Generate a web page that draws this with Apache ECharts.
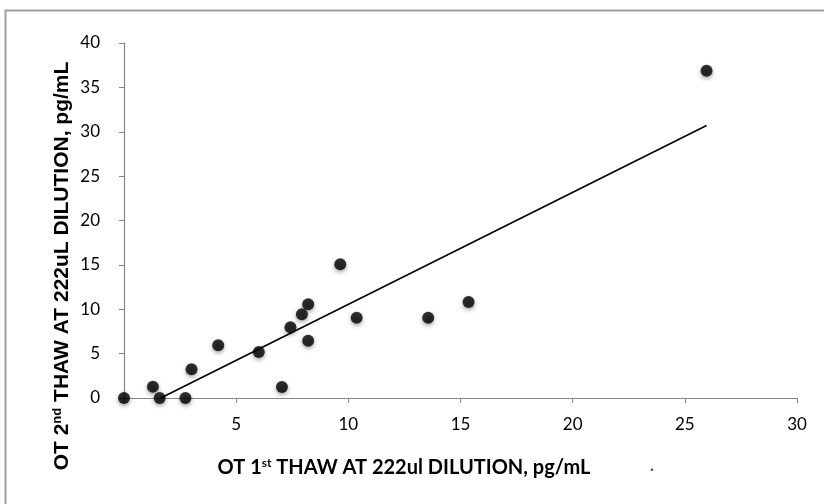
<!DOCTYPE html>
<html>
<head>
<meta charset="utf-8">
<script src="https://cdn.jsdelivr.net/npm/echarts@6/dist/echarts.min.js"></script>
<style>
  html, body { margin: 0; padding: 0; background: #fff; }
  #chart { width: 824px; height: 504px; }
</style>
</head>
<body>
<div id="chart"></div>
<script>
// OT 1st thaw (x) vs OT 2nd thaw (y), pg/mL
var firstThaw  = [0, 1.29, 1.59, 2.74, 3.01, 4.2, 6.01, 7.04, 7.42, 7.93, 8.21, 8.21, 9.64, 10.37, 13.56, 15.36, 25.97];
var secondThaw = [0, 1.27, 0, 0, 3.23, 5.94, 5.18, 1.24, 7.97, 9.43, 6.46, 10.56, 15.06, 9.05, 9.05, 10.82, 36.88];
var xTicks = [5, 10, 15, 20, 25, 30];
var yTicks = [0, 5, 10, 15, 20, 25, 30, 35, 40];

var points = firstThaw.map(function (x, i) { return [x, secondThaw[i]]; });

// least squares trend line, clipped at y = 0 like the original
var n = points.length, mx = 0, my = 0;
points.forEach(function (p) { mx += p[0] / n; my += p[1] / n; });
var sxy = 0, sxx = 0;
points.forEach(function (p) { sxy += (p[0] - mx) * (p[1] - my); sxx += (p[0] - mx) * (p[0] - mx); });
var slope = sxy / sxx, icpt = my - slope * mx;
var xMax = Math.max.apply(null, firstThaw);
var trend = [[-icpt / slope, 0], [xMax, slope * xMax + icpt]];

var chart = echarts.init(document.getElementById('chart'));
chart.setOption({
  animation: false,
  grid: { left: 124, right: 27, top: 43, bottom: 106 },
  xAxis: {
    type: 'value', min: 0, max: 30, interval: 5,
    splitLine: { show: false },
    axisLine: { lineStyle: { color: '#868686', width: 1.2 } },
    axisTick: { show: true, length: 5, lineStyle: { color: '#868686' } },
    axisLabel: {
      margin: 18, color: '#000', fontFamily: 'Lato', fontSize: 17,
      formatter: function (v) { return xTicks.indexOf(v) >= 0 ? String(v) : ''; }
    }
  },
  yAxis: {
    type: 'value', min: 0, max: 40, interval: 5,
    splitLine: { show: false },
    axisLine: { show: true, lineStyle: { color: '#868686', width: 1.2 } },
    axisTick: { show: true, length: 5, lineStyle: { color: '#868686' } },
    axisLabel: {
      margin: 24, color: '#000', fontFamily: 'Lato', fontSize: 17,
      formatter: function (v) { return yTicks.indexOf(v) >= 0 ? String(v) : ''; }
    }
  },
  graphic: [
    {
      type: 'rect', silent: true,
      shape: { x: 5.5, y: 10.5, width: 900, height: 600 },
      style: { fill: 'none', stroke: '#a0a0a0', lineWidth: 2 }
    },
    {
      type: 'text', x: 404, y: 468,
      style: {
        text: '{b|OT 1}{s|st}{b| THAW AT 222ul DILUTION, pg/mL}',
        align: 'center', verticalAlign: 'middle',
        rich: {
          b: { fontFamily: 'Lato', fontWeight: 'bold', fontSize: 20, fill: '#000' },
          s: { fontFamily: 'Lato', fontWeight: 'bold', fontSize: 12, fill: '#000', verticalAlign: 'top', padding: [0, 0, 9, 0] }
        }
      }
    },
    {
      type: 'text', x: 652, y: 469,
      style: { text: '·', font: 'bold 14px Lato', fill: '#555', align: 'center', verticalAlign: 'middle' }
    },
    {
      type: 'text', x: 62, y: 266, rotation: Math.PI / 2,
      style: {
        text: '{b|OT 2}{s|nd}{b| THAW AT 222uL DILUTION, pg/mL}',
        align: 'center', verticalAlign: 'middle',
        rich: {
          b: { fontFamily: 'Liberation Sans', fontWeight: 'bold', fontSize: 21, fill: '#000' },
          s: { fontFamily: 'Liberation Sans', fontWeight: 'bold', fontSize: 13, fill: '#000', verticalAlign: 'top', padding: [0, 0, 9, 0] }
        }
      }
    }
  ],
  series: [
    {
      type: 'line', data: trend, symbol: 'none', silent: true,
      lineStyle: { color: '#000', width: 1.5 }, z: 1
    },
    {
      type: 'scatter', data: points, symbol: 'circle', symbolSize: 12,
      itemStyle: { color: '#000', shadowColor: 'rgba(0,0,0,0.45)', shadowBlur: 4, shadowOffsetY: 2 },
      z: 3
    }
  ]
});
</script>
</body>
</html>
